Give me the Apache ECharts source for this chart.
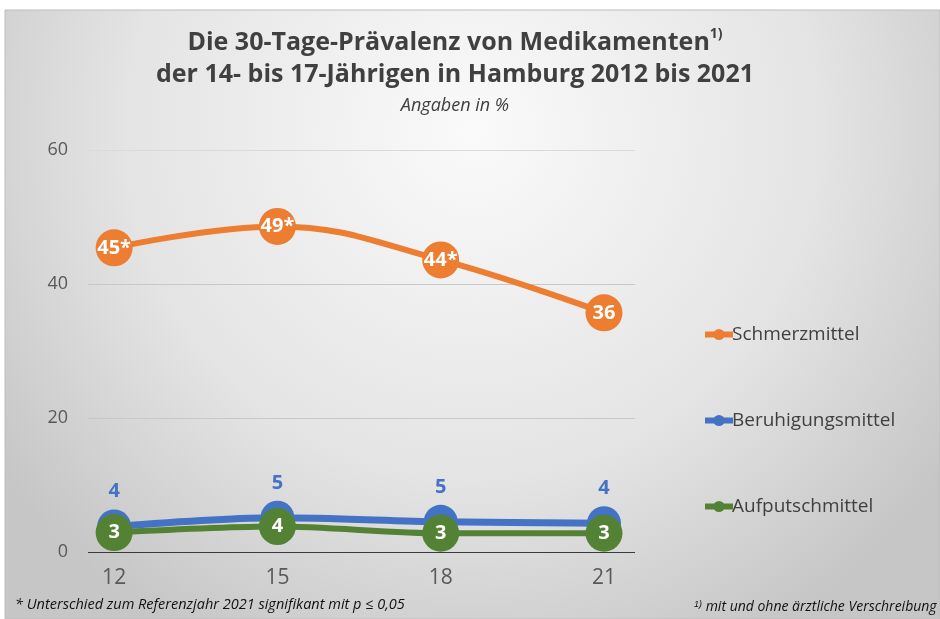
<!DOCTYPE html>
<html>
<head>
<meta charset="utf-8">
<script src="https://cdn.jsdelivr.net/npm/echarts@6/dist/echarts.min.js"></script>
<style>
html,body{margin:0;padding:0;background:#fff;}
#main{width:940px;height:619px;}
</style>
</head>
<body>
<div id="main"></div>
<script>
// Erhebungsjahre (20xx)
var years = [12, 15, 18, 21];
var schmerz = [45.4, 48.6, 43.6, 35.7];
var schmerzSig = [true, true, true, false];
var beruhigung = [3.8, 5.1, 4.5, 4.3];
var aufputsch = [2.9, 3.8, 2.8, 2.8];
var yTicks = [0, 20, 40, 60];

var font = '"Open Sans", "Noto Sans", sans-serif';

function pairs(vals){
	var out = [];
	for(var i = 0;i<years.length;i++){
		out.push([years[i], vals[i]]);
	}
	return out;
}

var myChart = echarts.init(document.getElementById('main'));
var option = {
	animation: false,
	textStyle: {fontFamily: font},
	graphic: [
		{
			type: 'rect', z: -10, silent: true,
			shape: {x: 5, y: 10, width: 935, height: 609},
			style: {
				fill: new echarts.graphic.RadialGradient(0.5, 0.2, 0.95, [
					{offset: 0, color: '#fafafa'},
					{offset: 0.6, color: '#e4e4e4'},
					{offset: 1, color: '#c6c6c6'}
				]),
				stroke: '#bdbdbd', lineWidth: 1
			}
		},
		{
			type: 'text', left: 15, top: 597,
			style: {text: '* Unterschied zum Referenzjahr 2021 signifikant mit p ≤ 0,05', font: 'italic 14.5px ' + font, fill: '#111'}
		},
		{
			type: 'text', left: 694, top: 600,
			style: {
				text: '{s|1)} mit und ohne ärztliche Verschreibung',
				font: 'italic 14px ' + font, fill: '#111',
				rich: {s: {fontSize: 9, fontStyle: 'italic', verticalAlign: 'top', padding: [0,0,6,0]}}
			}
		}
	],
	title: {
		text: 'Die 30-Tage-Prävalenz von Medikamenten{s|1)}\nder 14- bis 17-Jährigen in Hamburg 2012 bis 2021',
		subtext: 'Angaben in %',
		left: 450, textAlign: 'center', top: 22, itemGap: 6,
		textStyle: {
			fontSize: 25, fontWeight: 'bold', color: '#404040', lineHeight: 32,
			rich: {s: {fontSize: 14, fontWeight: 'bold', color: '#404040', verticalAlign: 'top', lineHeight: 32, padding: [0,0,14,0]}}
		},
		subtextStyle: {fontSize: 18, fontStyle: 'italic', color: '#404040'}
	},
	legend: {
		orient: 'vertical', left: 697, top: 320, itemGap: 67,
		itemWidth: 28, itemHeight: 14,
		lineStyle: {width: 6},
		textStyle: {fontSize: 19, color: '#404040', padding: [0,0,0,-6]},
		data: ['Schmerzmittel', 'Beruhigungsmittel', 'Aufputschmittel']
	},
	grid: {left: 88, right: 305, top: 150, bottom: 67},
	xAxis: {
		type: 'value', min: 11.52, max: 21.57,
		axisLine: {show: false}, axisTick: {show: false}, splitLine: {show: false},
		axisLabel: {customValues: years, fontSize: 21, color: '#595959', margin: 16}
	},
	yAxis: {
		type: 'value', min: 0, max: 60, interval: 20,
		axisLine: {show: true, lineStyle: {color: '#404040', width: 0}},
		axisTick: {show: false},
		axisLabel: {customValues: yTicks, fontSize: 18, color: '#595959', margin: 20},
		splitLine: {lineStyle: {color: ['#3a3a3a', '#c8c8c8', '#c8c8c8', '#dadada'], width: 1.2}}
	},
	series: [
		{
			name: 'Schmerzmittel', type: 'line', smooth: 0.4,
			data: pairs(schmerz),
			symbol: 'circle', symbolSize: 37,
			lineStyle: {width: 6, color: '#ED7D31'},
			itemStyle: {color: '#ED7D31'},
			label: {
				show: true, position: 'inside', color: '#fff', fontWeight: 'bold', fontSize: 20,
				formatter: function(p){
					return Math.round(p.value[1]) + (schmerzSig[p.dataIndex] ? '*' : '');
				}
			}
		},
		{
			name: 'Beruhigungsmittel', type: 'line', smooth: 0.3,
			data: pairs(beruhigung),
			symbol: 'circle', symbolSize: 34,
			lineStyle: {width: 7, color: '#4472C4'},
			itemStyle: {color: '#4472C4'},
			label: {
				show: true, position: 'top', distance: 8, color: '#4472C4', fontWeight: 'bold', fontSize: 20,
				formatter: function(p){ return Math.round(p.value[1]); }
			}
		},
		{
			name: 'Aufputschmittel', type: 'line', smooth: 0.3,
			data: pairs(aufputsch),
			symbol: 'circle', symbolSize: 37,
			lineStyle: {width: 6, color: '#548235'},
			itemStyle: {color: '#548235'},
			label: {
				show: true, position: 'inside', color: '#fff', fontWeight: 'bold', fontSize: 20,
				formatter: function(p){ return Math.round(p.value[1]); }
			}
		}
	]
};
myChart.setOption(option);
</script>
</body>
</html>
